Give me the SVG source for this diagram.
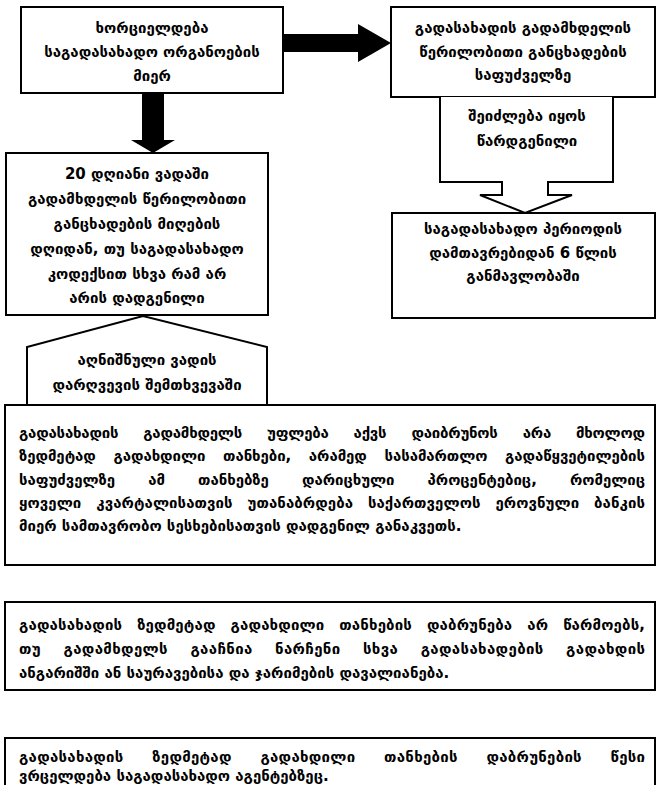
<svg xmlns="http://www.w3.org/2000/svg" width="659" height="785" viewBox="0 0 659 785">
  <style>
    .box { fill: #fff; stroke: #000; stroke-width: 2; }
    .line { fill: none; stroke: #000; stroke-width: 2; }
    .solid { fill: #000; stroke: none; }
    text { font-family: "DejaVu Sans", "Noto Sans", sans-serif; font-size: 15px; font-weight: bold; fill: #000; }
    .c { text-anchor: middle; }
  </style>
  <rect width="659" height="785" fill="#fff"/>

  <g id="connectors">
    <!-- solid block arrows -->
    <polygon class="solid" points="283,34 358,34 358,24 391,43 358,62 358,52 283,52"/>
    <polygon class="solid" points="142,93 164,93 164,140 175,140 153,153 131,140 142,140"/>
  </g>

  <g id="n-organ">
    <rect class="box" x="21" y="7" width="262" height="86"/>
    <text class="c" x="152" y="33">ხორციელდება</text>
    <text class="c" x="152" y="57">საგადასახადო ორგანოების</text>
    <text class="c" x="152" y="81">მიერ</text>
  </g>

  <g id="n-application">
    <rect class="box" x="391" y="7" width="264" height="90"/>
    <text class="c" x="523" y="33">გადასახადის გადამხდელის</text>
    <text class="c" x="523" y="57">წერილობითი განცხადების</text>
    <text class="c" x="523" y="80">საფუძველზე</text>
  </g>

  <g id="n-submitted">
    <path class="box" d="M440,97 V182 H502 V195 H480 L525,213 L572,195 H548 V182 H613 V97"/>
    <text class="c" x="527" y="121">შეიძლება იყოს</text>
    <text class="c" x="527" y="146">წარდგენილი</text>
  </g>

  <g id="n-six-years">
    <rect class="box" x="392" y="213" width="263" height="105"/>
    <text class="c" x="523" y="234">საგადასახადო პერიოდის</text>
    <text class="c" x="523" y="258">დამთავრებიდან 6 წლის</text>
    <text class="c" x="523" y="281">განმავლობაში</text>
  </g>

  <g id="n-twenty-days">
    <rect class="box" x="6" y="153" width="262" height="162"/>
    <text class="c" x="137" y="179">20 დღიანი ვადაში</text>
    <text class="c" x="137" y="204">გადამხდელის წერილობითი</text>
    <text class="c" x="137" y="229">განცხადების მიღების</text>
    <text class="c" x="137" y="254">დღიდან, თუ საგადასახადო</text>
    <text class="c" x="137" y="279">კოდექსით სხვა რამ არ</text>
    <text class="c" x="137" y="303">არის დადგენილი</text>
  </g>

  <g id="n-violation">
    <path class="line" d="M27,406 V347 L143,316 L267,347 V406"/>
    <text class="c" x="147" y="365">აღნიშნული ვადის</text>
    <text class="c" x="147" y="390">დარღვევის შემთხვევაში</text>
  </g>

  <!-- justified lines: word-spacing opens the gaps, textLength trims the remainder -->
  <g id="n-interest">
    <rect class="box" x="5" y="405" width="650" height="160"/>
    <text x="19" y="438" word-spacing="20" textLength="626" lengthAdjust="spacing">გადასახადის გადამხდელს უფლება აქვს დაიბრუნოს არა მხოლოდ</text>
    <text x="19" y="461" word-spacing="12.5" textLength="626" lengthAdjust="spacing">ზედმეტად გადახდილი თანხები, არამედ სასამართლო გადაწყვეტილების</text>
    <text x="19" y="485" word-spacing="28" textLength="626" lengthAdjust="spacing">საფუძველზე ამ თანხებზე დარიცხული პროცენტებიც, რომელიც</text>
    <text x="19" y="508" word-spacing="9.6" textLength="626" lengthAdjust="spacing">ყოველი კვარტალისათვის უთანაბრდება საქართველოს ეროვნული ბანკის</text>
    <text x="19" y="531">მიერ სამთავრობო სესხებისათვის დადგენილ განაკვეთს.</text>
  </g>

  <g id="n-offset">
    <rect class="box" x="5" y="602" width="650" height="88"/>
    <text x="19" y="630" word-spacing="9.6" textLength="626" lengthAdjust="spacing">გადასახადის ზედმეტად გადახდილი თანხების დაბრუნება არ წარმოებს,</text>
    <text x="19" y="654" word-spacing="16.9" textLength="626" lengthAdjust="spacing">თუ გადამხდელს გააჩნია ნარჩენი სხვა გადასახადების გადახდის</text>
    <text x="19" y="678">ანგარიშში ან საურავებისა და ჯარიმების დავალიანება.</text>
  </g>

  <g id="n-agents">
    <path class="line" d="M5,786 V738 H655 V786"/>
    <text x="19" y="762" word-spacing="23.2" textLength="626" lengthAdjust="spacing">გადასახადის ზედმეტად გადახდილი თანხების დაბრუნების წესი</text>
    <text x="19" y="781">ვრცელდება საგადასახადო აგენტებზეც.</text>
  </g>
</svg>
